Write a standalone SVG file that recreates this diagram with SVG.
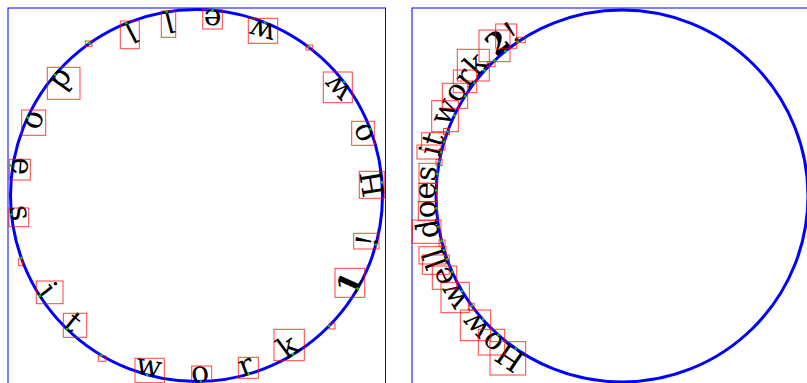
<svg xmlns="http://www.w3.org/2000/svg" width="807" height="383" viewBox="0 0 807 383">
<style>
.frame{fill:none;stroke:#0000ff;stroke-width:1}
.ring{fill:none;stroke:#0000ff;stroke-width:3}
.txt{font-family:"DejaVu Serif","Liberation Serif",serif;font-size:30px;fill:#000}
.num{font-weight:bold}
.box{fill:none;stroke:#ff0000;stroke-width:1;stroke-opacity:0.75}
.dot{fill:#00cc00}
</style>
<defs>
<path id="pathL" d="M 382.5 195.5 A 186 186 0 1 0 10.5 195.5 A 186 186 0 1 0 382.5 195.5"/>
<path id="pathR" d="M 526.84 355.81 A 186 186 0 1 1 717.16 36.19 A 186 186 0 1 1 526.84 355.81"/>
</defs>
<rect width="807" height="383" fill="#fff"/>
<g id="panel-left">
<rect class="frame" x="8" y="8" width="377.5" height="400"/>
<circle class="ring" cx="196.5" cy="195.5" r="186"/>
<text class="txt" letter-spacing="32.4"><textPath href="#pathL">How well does it work <tspan class="num">1</tspan>!</textPath></text>
<g id="boxes-left">
<rect class="box" x="359.3" y="171.3" width="25" height="27"/>
<rect class="box" x="351.7" y="121.3" width="22.6" height="24"/>
<rect class="box" x="323.3" y="72" width="29" height="30.7"/>
<rect class="box" x="306" y="45" width="6.7" height="5"/>
<rect class="box" x="248.3" y="18.3" width="29.4" height="25"/>
<rect class="box" x="202.7" y="9.3" width="19.6" height="19.7"/>
<rect class="box" x="161.3" y="11" width="14.4" height="26.3"/>
<rect class="box" x="120.3" y="21" width="19" height="27.7"/>
<rect class="box" x="85.3" y="41" width="6.7" height="5.3"/>
<rect class="box" x="47.3" y="67.3" width="32.7" height="32"/>
<rect class="box" x="21.7" y="110" width="24" height="25.3"/>
<rect class="box" x="9.3" y="159.3" width="21" height="20.7"/>
<rect class="box" x="9" y="208" width="19.7" height="18.7"/>
<rect class="box" x="18.7" y="258.3" width="4" height="7.4"/>
<rect class="box" x="36.3" y="281" width="26.7" height="22.7"/>
<rect class="box" x="63.3" y="313.3" width="23.4" height="24"/>
<rect class="box" x="98.3" y="356" width="7.7" height="5.3"/>
<rect class="box" x="135" y="358.3" width="29.3" height="24.4"/>
<rect class="box" x="191.7" y="366" width="20" height="20"/>
<rect class="box" x="238.3" y="357.3" width="20" height="21"/>
<rect class="box" x="274" y="329.3" width="30.3" height="31.4"/>
<rect class="box" x="329.3" y="323.3" width="5.7" height="5.7"/>
<rect class="box" x="335" y="268.3" width="29.7" height="29"/>
<rect class="box" x="353.7" y="233.3" width="25.3" height="15.7"/>
</g>
<g id="dots-left">
<circle class="dot" cx="382.04" cy="182.4" r="1.3"/>
<circle class="dot" cx="370.33" cy="129.32" r="1.3"/>
<circle class="dot" cx="343.91" cy="82.07" r="1.3"/>
<circle class="dot" cx="308.52" cy="47.02" r="1.3"/>
<circle class="dot" cx="265.06" cy="22.6" r="1.3"/>
<circle class="dot" cx="212.55" cy="10.19" r="1.3"/>
<circle class="dot" cx="166.6" cy="11.92" r="1.3"/>
<circle class="dot" cx="126.25" cy="23.28" r="1.3"/>
<circle class="dot" cx="89.54" cy="43.33" r="1.3"/>
<circle class="dot" cx="55.06" cy="74.7" r="1.3"/>
<circle class="dot" cx="27.6" cy="117.61" r="1.3"/>
<circle class="dot" cx="10.92" cy="165.6" r="1.3"/>
<circle class="dot" cx="11.47" cy="214.43" r="1.3"/>
<circle class="dot" cx="21.33" cy="258.08" r="1.3"/>
<circle class="dot" cx="39.77" cy="295.67" r="1.3"/>
<circle class="dot" cx="67.06" cy="329.07" r="1.3"/>
<circle class="dot" cx="101.28" cy="355.28" r="1.3"/>
<circle class="dot" cx="147.14" cy="374.83" r="1.3"/>
<circle class="dot" cx="200.85" cy="381.45" r="1.3"/>
<circle class="dot" cx="248.73" cy="374.02" r="1.3"/>
<circle class="dot" cx="293.17" cy="354.41" r="1.3"/>
<circle class="dot" cx="329.28" cy="325.75" r="1.3"/>
<circle class="dot" cx="357.53" cy="288.58" r="1.3"/>
<circle class="dot" cx="375.95" cy="244.45" r="1.3"/>
</g>
</g>
<g id="panel-right">
<rect class="frame" x="412" y="8" width="400" height="400"/>
<circle class="ring" cx="622" cy="196" r="186"/>
<text class="txt"><textPath href="#pathR">How well does it work <tspan class="num">2</tspan>!</textPath></text>
<g id="boxes-right">
<rect class="box" x="490" y="341.7" width="35.7" height="33.3"/>
<rect class="box" x="478.3" y="329.3" width="26.4" height="25.7"/>
<rect class="box" x="460.3" y="310" width="30.4" height="30.7"/>
<rect class="box" x="468.3" y="303.3" width="5.7" height="6.7"/>
<rect class="box" x="441" y="282.3" width="28.3" height="30.4"/>
<rect class="box" x="432.3" y="266" width="24.4" height="23.3"/>
<rect class="box" x="422.3" y="255" width="27" height="19.3"/>
<rect class="box" x="419" y="246.7" width="27" height="17.3"/>
<rect class="box" x="439" y="240" width="6" height="6"/>
<rect class="box" x="412.3" y="220" width="28.7" height="23.3"/>
<rect class="box" x="418.3" y="201.7" width="19" height="19"/>
<rect class="box" x="419" y="183.3" width="17.7" height="18.4"/>
<rect class="box" x="419" y="163.3" width="18.3" height="20"/>
<rect class="box" x="436" y="159.5" width="6" height="6"/>
<rect class="box" x="417" y="145" width="24" height="14"/>
<rect class="box" x="421.7" y="132.7" width="23.3" height="17.3"/>
<rect class="box" x="443.5" y="128.5" width="6" height="6"/>
<rect class="box" x="431.7" y="100.7" width="26.6" height="31"/>
<rect class="box" x="442.3" y="83.3" width="25.4" height="25"/>
<rect class="box" x="453.3" y="70" width="23.4" height="22.7"/>
<rect class="box" x="457.3" y="49.3" width="32" height="31.7"/>
<rect class="box" x="487.3" y="61.7" width="7.7" height="5"/>
<rect class="box" x="479" y="30" width="31" height="31.7"/>
<rect class="box" x="495.7" y="24" width="21" height="24.3"/>
<rect class="box" x="516.7" y="37.3" width="8.6" height="5.4"/>
</g>
<g id="dots-right">
<circle class="dot" cx="515.85" cy="348.73" r="1.3"/>
<circle class="dot" cx="498.45" cy="335.04" r="1.3"/>
<circle class="dot" cx="482.98" cy="319.57" r="1.3"/>
<circle class="dot" cx="471.94" cy="305.89" r="1.3"/>
<circle class="dot" cx="462.23" cy="291.24" r="1.3"/>
<circle class="dot" cx="452.19" cy="271.91" r="1.3"/>
<circle class="dot" cx="447.07" cy="259.22" r="1.3"/>
<circle class="dot" cx="444.05" cy="250.13" r="1.3"/>
<circle class="dot" cx="441.5" cy="240.91" r="1.3"/>
<circle class="dot" cx="438.58" cy="226.85" r="1.3"/>
<circle class="dot" cx="436.41" cy="208.36" r="1.3"/>
<circle class="dot" cx="436.08" cy="190.42" r="1.3"/>
<circle class="dot" cx="437.32" cy="173.88" r="1.3"/>
<circle class="dot" cx="439.22" cy="161.56" r="1.3"/>
<circle class="dot" cx="441.22" cy="152.24" r="1.3"/>
<circle class="dot" cx="444.08" cy="141.77" r="1.3"/>
<circle class="dot" cx="447.53" cy="131.52" r="1.3"/>
<circle class="dot" cx="454.4" cy="115.34" r="1.3"/>
<circle class="dot" cx="465.04" cy="96.2" r="1.3"/>
<circle class="dot" cx="474.32" cy="82.93" r="1.3"/>
<circle class="dot" cx="484.73" cy="70.49" r="1.3"/>
<circle class="dot" cx="494.57" cy="60.51" r="1.3"/>
<circle class="dot" cx="505.33" cy="51.14" r="1.3"/>
<circle class="dot" cx="517.88" cy="41.87" r="1.3"/>
</g>
</g>
</svg>
